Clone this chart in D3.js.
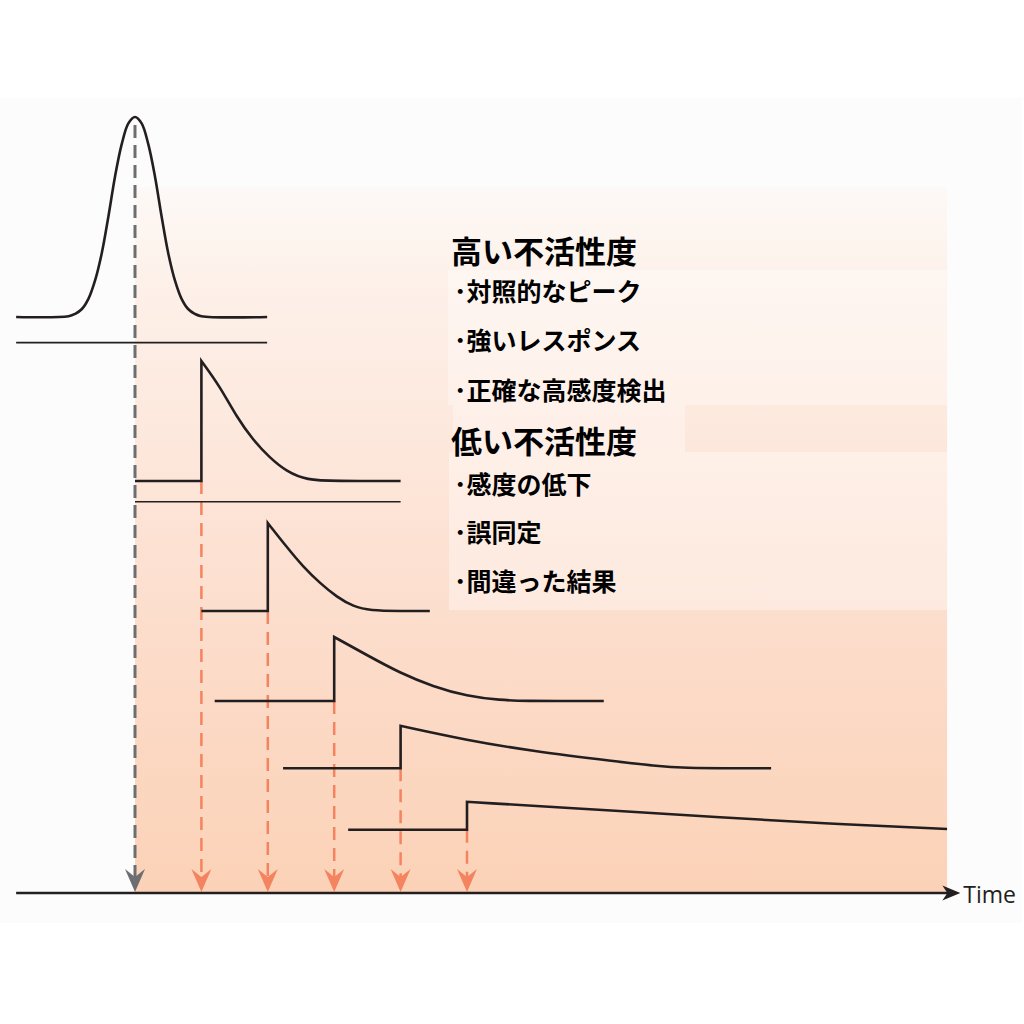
<!DOCTYPE html>
<html>
  <head>
    <meta charset="utf-8">
    <script src="https://d3js.org/d3.v7.min.js"></script>
    <style>
      body { margin: 0; background: #ffffff; }
      svg { display: block; }
    </style>
  </head>
<body>
<script>
  // time units: one unit = spacing between the arrows on the time axis
  var arrowTimes = [0, 1, 2, 3, 4, 5];

  // sharp peak at the top (time, level)
  var peakCurve = [[-1.79, 72], [-1.0, 72.1], [-0.9, 72.4], [-0.8, 73.0], [-0.7, 74.3], [-0.6, 76.6],
    [-0.5, 80.0], [-0.4, 84.6], [-0.3, 89.6], [-0.2, 93.6], [-0.1, 96.2], [0, 97],
    [0.1, 96.2], [0.2, 93.6], [0.3, 89.6], [0.4, 84.6], [0.5, 80.0], [0.6, 76.6],
    [0.7, 74.3], [0.8, 73.0], [0.9, 72.4], [1.0, 72.1], [1.99, 72]];

  // thin separator lines
  var rule1 = [[-1.79, 68.8], [1.99, 68.8]];
  var rule2 = [[0, 48.9], [4, 48.9]];

  // step responses: start of flat part, step time, baseline level
  var stepStart = [0, 1.0, 1.2, 2.23, 3.21];
  var stepTime = [1, 2, 3, 4, 5];
  var baseLevel = [51.5, 35.25, 24, 15.6, 7.9];

  // decay after each step (first point is the peak)
  var decay1 = [[1, 66.5], [1.28, 63.3], [1.53, 59.5], [1.78, 56.6], [2.03, 54.4], [2.28, 52.7], [2.59, 51.6], [3.0, 51.5], [4.0, 51.5]];
  var decay2 = [[2, 46.25], [2.28, 43.3], [2.53, 40.8], [2.79, 38.7], [3.04, 37.0], [3.29, 35.8], [3.54, 35.3], [4.0, 35.25], [4.44, 35.25]];
  var decay3 = [[3, 32], [3.49, 29.75], [3.99, 27.5], [4.49, 25.8], [5.0, 24.6], [5.5, 24.1], [5.9, 24], [6.5, 24], [7.06, 24]];
  var decay4 = [[4, 20.9], [5.0, 19.1], [6.0, 17.7], [7.3, 16.4], [7.8, 15.9], [8.3, 15.6], [9.0, 15.6], [9.58, 15.6]];
  var decay5 = [[5, 11.4], [7.3, 10.25], [8.81, 9.46], [10.32, 8.7], [12.23, 8.0]];
  var decays = [decay1, decay2, decay3, decay4, decay5];

  var axisStart = -1.79, axisEnd = 12.43, shadeEnd = 12.23;

  var heading1 = "高い不活性度";
  var items1 = ["･対照的なピーク", "･強いレスポンス", "･正確な高感度検出"];
  var heading2 = "低い不活性度";
  var items2 = ["･感度の低下", "･誤同定", "･間違った結果"];

  var ink = "#231f20", orange = "#f4845f", grey = "#6d6e71";

  var svg = d3.select("body").append("svg")
      .attr("width", 1024)
      .attr("height", 1024);

  var x = d3.scaleLinear().domain([0, 1]).range([135, 201.4]);
  var y = d3.scaleLinear().domain([0, 100]).range([893, 93]);

  // shaded background
  var defs = svg.append("defs");
  var grad = defs.append("linearGradient")
      .attr("id", "shade")
      .attr("x1", 0).attr("y1", 0).attr("x2", 0).attr("y2", 1);
  [["0%", "#fdf9f6"], ["15%", "#fdf0e8"], ["40%", "#fde6da"], ["65%", "#fcdcca"], ["100%", "#fbd2b7"]]
    .forEach(function (s) {
      grad.append("stop").attr("offset", s[0]).attr("stop-color", s[1]);
    });

  svg.append("rect")
      .attr("x", 0).attr("y", 98)
      .attr("width", 1022).attr("height", 825)
      .attr("fill", "#fcfcfc");

  svg.append("rect")
      .attr("x", x(0)).attr("y", 187)
      .attr("width", x(shadeEnd) - x(0))
      .attr("height", y(0) - 187)
      .attr("fill", "url(#shade)");

  // lighter boxes behind the text
  [[448, 270, 499, 135], [453, 405, 232, 47], [449, 452, 498, 158]].forEach(function (b) {
    svg.append("rect")
        .attr("x", b[0]).attr("y", b[1])
        .attr("width", b[2]).attr("height", b[3])
        .attr("fill", "#ffffff")
        .attr("opacity", 0.35);
  });

  var line = d3.line()
      .x(function (d) { return x(d[0]); })
      .y(function (d) { return y(d[1]); });
  var peakLine = d3.line()
      .x(function (d) { return x(d[0]); })
      .y(function (d) { return y(d[1]); })
      .curve(d3.curveCatmullRom.alpha(0.5));
  var smooth = d3.line()
      .x(function (d) { return x(d[0]); })
      .y(function (d) { return y(d[1]); })
      .curve(d3.curveBasis);

  // dashed drop lines
  svg.append("line")
      .attr("x1", x(0)).attr("x2", x(0))
      .attr("y1", y(96)).attr("y2", y(0) - 16)
      .attr("stroke", grey)
      .attr("stroke-width", 3)
      .attr("stroke-dasharray", "13,7");

  stepTime.forEach(function (t, i) {
    svg.append("line")
        .attr("x1", x(t)).attr("x2", x(t))
        .attr("y1", y(baseLevel[i])).attr("y2", y(0) - 16)
        .attr("stroke", orange)
        .attr("stroke-width", 2.5)
        .attr("stroke-dasharray", "13,8");
  });

  // arrow heads on the axis
  svg.selectAll(".head")
    .data(arrowTimes)
    .enter()
    .append("path")
      .attr("class", "head")
      .attr("d", "M0,0 L-10,-23 L0,-15 L10,-23 Z")
      .attr("transform", function (d) { return "translate(" + x(d) + "," + (y(0) - 1) + ")"; })
      .attr("fill", function (d) { return d === 0 ? grey : orange; });

  // traces
  svg.append("path")
      .attr("d", peakLine(peakCurve))
      .attr("fill", "none")
      .attr("stroke", ink)
      .attr("stroke-width", 2.6);

  [rule1, rule2].forEach(function (r) {
    svg.append("path")
        .attr("d", line(r))
        .attr("fill", "none")
        .attr("stroke", ink)
        .attr("stroke-width", 1.6);
  });

  decays.forEach(function (dec, i) {
    var head = line([[stepStart[i], baseLevel[i]], [stepTime[i], baseLevel[i]]]);
    svg.append("path")
        .attr("d", head + smooth(dec).replace(/^M/, "L"))
        .attr("fill", "none")
        .attr("stroke", ink)
        .attr("stroke-width", 2.6)
        .attr("stroke-linejoin", "miter");
  });

  // time axis
  svg.append("line")
      .attr("x1", x(axisStart)).attr("x2", x(axisEnd) - 12)
      .attr("y1", y(0)).attr("y2", y(0))
      .attr("stroke", ink)
      .attr("stroke-width", 2.6);

  svg.append("path")
      .attr("d", "M0,0 L-18,-7.5 L-13,0 L-18,7.5 Z")
      .attr("transform", "translate(" + x(axisEnd) + "," + y(0) + ")")
      .attr("fill", ink);

  svg.append("text")
      .attr("x", x(axisEnd) + 3)
      .attr("y", y(0) + 1)
      .attr("dominant-baseline", "central")
      .style("font-family", "'Open Sans', sans-serif")
      .style("font-size", "23px")
      .attr("fill", ink)
      .text("Time");

  // text block
  var jp = "'Noto Sans CJK JP', sans-serif";
  function heading(txt, ty) {
    svg.append("text")
        .attr("x", 451).attr("y", ty)
        .attr("dominant-baseline", "central")
        .style("font-family", jp)
        .style("font-size", "31px")
        .style("font-weight", 700)
        .attr("fill", "#000")
        .text(txt);
  }
  function items(list, ys) {
    list.forEach(function (txt, i) {
      svg.append("text")
          .attr("x", 454).attr("y", ys[i])
          .attr("dominant-baseline", "central")
          .style("font-family", jp)
          .style("font-size", "25px")
          .style("font-weight", 700)
          .attr("fill", "#000")
          .text(txt);
    });
  }
  heading(heading1, 249);
  items(items1, [290, 339, 389]);
  heading(heading2, 439);
  items(items2, [483, 531, 580]);
</script>
</body>
</html>
